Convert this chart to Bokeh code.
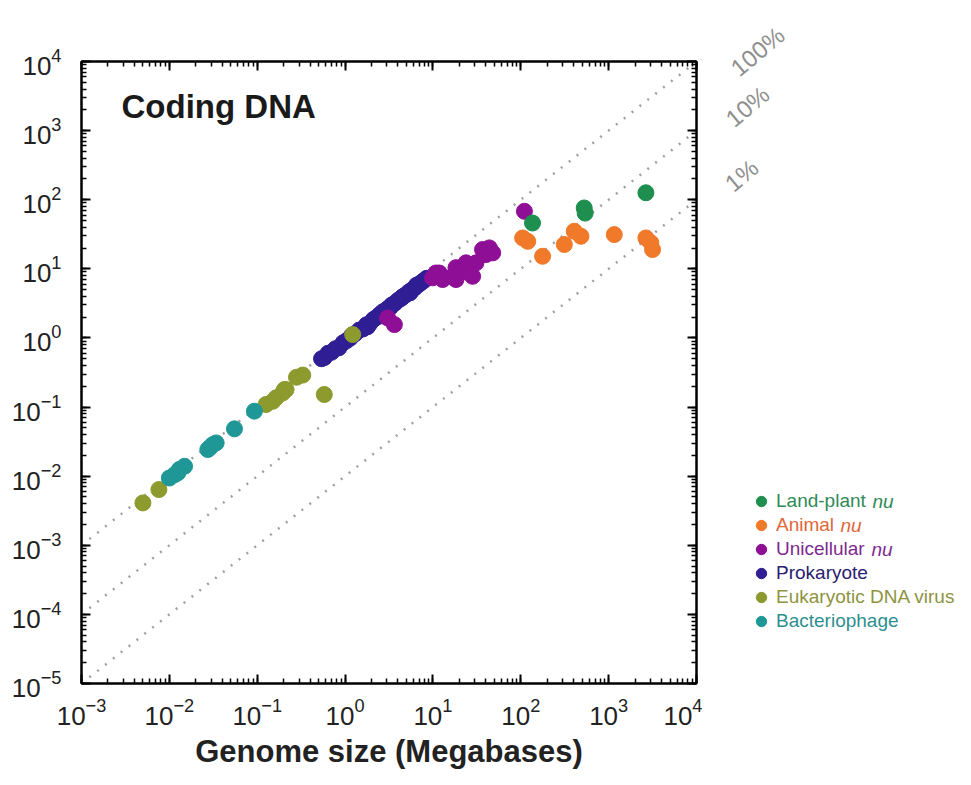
from bokeh.plotting import figure
from bokeh.models import LogAxis, Legend, LegendItem, Label, Range1d, LogTicker
from bokeh.layouts import row
from bokeh.embed import file_html
from bokeh.resources import INLINE
import math

# ---------------- data (Megabases) ----------------
landplant_x = [136, 527, 540, 2655]
landplant_y = [46, 76, 64, 126]

animal_x = [105, 120, 177, 313, 406, 484, 1159, 2655, 3027, 3162]
animal_y = [28, 25, 15.2, 22.5, 35, 29.6, 31.3, 28, 23.8, 19]

unicellular_x = [3.05, 3.64, 9.9, 10.8, 11.8, 12.9, 16.7, 18.3, 18.3, 21.8, 23.8,
                 25.9, 28.3, 30.9, 36.7, 40.2, 43.9, 47.9, 110]
unicellular_y = [1.95, 1.56, 7.4, 8.7, 8.7, 7.0, 7.8, 7.0, 10.4, 9.8, 12.2,
                 8.7, 7.8, 12.2, 19.0, 16.1, 20.1, 17.0, 68]

prokaryote_x = [0.54, 0.58, 0.64, 0.70, 0.78, 0.85, 0.95, 1.05, 1.15, 1.2, 1.3, 1.45,
                1.6, 1.75, 1.8, 1.9, 2.1, 2.3, 2.5, 2.6, 2.7, 2.9, 3.1, 3.3, 3.4,
                3.7, 4.0, 4.3, 4.5, 4.6, 4.9, 5.3, 5.5, 5.7, 6.2, 6.5, 6.7, 7.2,
                7.8, 8.5]
prokaryote_y = [0.50, 0.52, 0.60, 0.62, 0.70, 0.72, 0.85, 0.92, 1.0, 1.1, 1.15, 1.3,
                1.35, 1.55, 1.45, 1.6, 1.85, 2.0, 2.2, 2.1, 2.4, 2.5, 2.7, 2.8, 3.0,
                3.2, 3.5, 3.7, 3.9, 4.0, 4.2, 4.6, 4.5, 4.9, 5.3, 5.8, 5.8, 6.2,
                6.7, 7.3]

virus_x = [0.0050, 0.0076, 0.126, 0.150, 0.164, 0.195, 0.204, 0.213, 0.28, 0.33, 0.58, 1.22]
virus_y = [0.0041, 0.0064, 0.109, 0.121, 0.136, 0.160, 0.179, 0.179, 0.27, 0.29, 0.152, 1.12]

phage_x = [0.0100, 0.0115, 0.0125, 0.0130, 0.0149, 0.0274, 0.029, 0.0312, 0.0341, 0.0551, 0.0929]
phage_y = [0.0094, 0.0105, 0.0112, 0.0125, 0.0139, 0.0243, 0.026, 0.0286, 0.0303, 0.0484, 0.0871]

percent_levels = [1.0, 0.1, 0.01]
percent_labels = ["100%", "10%", "1%"]

x_ticks_range = (1e-3, 1e4)
y_ticks_range = (1e-5, 1e4)

# ---------------- styling / layout ----------------
C_PLANT, C_ANIMAL, C_UNI = "#1f8f4f", "#f07a2a", "#8e0f96"
C_PROK, C_VIRUS, C_PHAGE = "#301e95", "#8c9a2e", "#1f9797"
FONT = "Liberation Sans"

OFF = 1                    # page offset of the canvas
FL, FT = 82, 62            # frame left/top (page px, reference)
FW, FH = 615, 622          # frame size
BR = 6                     # right border of the main plot
BB = 86                    # bottom border
H = (FT - OFF) + FH + BB   # total height
W1 = (FL - OFF) + FW + BR  # main figure width
W2 = 962 - W1              # side panel width
X2 = OFF + W1              # page x of side panel

p = figure(x_axis_type="log", y_axis_type="log",
           x_range=Range1d(*x_ticks_range), y_range=Range1d(*y_ticks_range),
           frame_width=FW, frame_height=FH,
           min_border_left=FL - OFF, min_border_top=FT - OFF,
           min_border_right=BR, min_border_bottom=BB,
           output_backend="svg", toolbar_location=None)
p.xgrid.visible = False
p.ygrid.visible = False
p.outline_line_color = "black"
p.outline_line_width = 2
p.background_fill_color = "white"
p.border_fill_color = "white"

lx0, lx1 = math.log10(x_ticks_range[0]), math.log10(x_ticks_range[1])
ly0, ly1 = math.log10(y_ticks_range[0]), math.log10(y_ticks_range[1])


def fx(px):
    return 10 ** (lx0 + (px - FL) / FW * (lx1 - lx0))


def fy(py):
    return 10 ** (ly1 - (py - FT) / FH * (ly1 - ly0))


for lev in percent_levels:
    xs = list(x_ticks_range)
    p.line(x=xs, y=[lev * v for v in xs], line_color="#a0a0a0", line_width=2.5,
           line_dash="2 8")

S = 16
r_prok = p.scatter(prokaryote_x, prokaryote_y, size=S, color=C_PROK)
r_uni = p.scatter(unicellular_x, unicellular_y, size=S, color=C_UNI)
r_virus = p.scatter(virus_x, virus_y, size=S, color=C_VIRUS)
r_phage = p.scatter(phage_x, phage_y, size=S, color=C_PHAGE)
r_animal = p.scatter(animal_x, animal_y, size=S, color=C_ANIMAL)
r_plant = p.scatter(landplant_x, landplant_y, size=S, color=C_PLANT)

for ax in (p.xaxis[0], p.yaxis[0]):
    ax.axis_line_width = 2
    ax.major_tick_in = 9
    ax.major_tick_out = 0
    ax.minor_tick_in = 5
    ax.minor_tick_out = 0
    ax.major_tick_line_width = 2
    ax.minor_tick_line_width = 1.5
    ax.major_label_text_font = FONT
    ax.major_label_text_font_size = "26px"
    ax.major_label_text_color = "#222222"
    ax.ticker.num_minor_ticks = 10

p.xaxis[0].major_label_standoff = 14
p.yaxis[0].major_label_standoff = 20
p.xaxis[0].axis_label = "Genome size (Megabases)"
p.xaxis[0].axis_label_text_font = FONT
p.xaxis[0].axis_label_text_font_style = "bold"
p.xaxis[0].axis_label_text_font_size = "31px"
p.xaxis[0].axis_label_text_color = "#222222"
p.xaxis[0].axis_label_standoff = 6

for loc in ("above", "right"):
    ax = LogAxis(ticker=LogTicker(num_minor_ticks=10))
    ax.axis_line_width = 2
    ax.major_tick_in = 9
    ax.major_tick_out = 0
    ax.minor_tick_in = 5
    ax.minor_tick_out = 0
    ax.major_tick_line_width = 2
    ax.minor_tick_line_width = 1.5
    ax.major_label_text_alpha = 0
    ax.major_label_text_font_size = "1px"
    ax.major_label_standoff = 0
    p.add_layout(ax, loc)

p.add_layout(Label(x=fx(122), y=fy(107), text="Coding DNA", text_font=FONT,
                   text_font_style="bold", text_font_size="33px", text_color="#1a1a1a",
                   text_align="left", text_baseline="middle"))

# ---------------- side panel: percentage labels and legend ----------------
p2 = figure(width=W2, height=H, x_range=Range1d(0, W2), y_range=Range1d(0, H),
            min_border=0, frame_align=False, output_backend="svg",
            toolbar_location=None, x_axis_location=None, y_axis_location=None)
p2.xgrid.visible = False
p2.ygrid.visible = False
p2.outline_line_color = None
p2.background_fill_color = "white"
p2.border_fill_color = "white"


def sx(px):
    return px - X2


def sy(py):
    return H - (py - OFF)


pct_pos = [(758, 52), (748, 107), (742, 176)]
for lab, (px, py) in zip(percent_labels, pct_pos):
    p2.add_layout(Label(x=sx(px), y=sy(py), text=lab, angle=40, angle_units="deg",
                        text_align="center", text_baseline="middle", text_font=FONT,
                        text_font_size="24px", text_color="#8f8f8f"))

legend_items = [
    ("Land-plant", C_PLANT, "#2f8a56", True),
    ("Animal", C_ANIMAL, "#e0663a", True),
    ("Unicellular", C_UNI, "#7d2a8f", True),
    ("Prokaryote", C_PROK, "#2a2070", False),
    ("Eukaryotic DNA virus", C_VIRUS, "#8e9440", False),
    ("Bacteriophage", C_PHAGE, "#2e8f8f", False),
]
nu_offsets = {"Land-plant": 96, "Animal": 64, "Unicellular": 95}
G = 26
NAN = float("nan")
for i, (lab, mcol, tcol, nu) in enumerate(legend_items):
    cy = 502 + 24 * i
    key = p2.scatter(x=[NAN], y=[NAN], size=11, color=mcol)
    leg = Legend(items=[LegendItem(label=lab, renderers=[key])],
                 location=(sx(762) - G / 2, sy(cy) - G / 2),
                 glyph_width=G, glyph_height=G, label_standoff=2,
                 label_text_font=FONT, label_text_font_size="19px",
                 label_text_color=tcol, padding=0, margin=0, spacing=0,
                 border_line_color=None, background_fill_alpha=0,
                 label_height=G)
    p2.add_layout(leg)
    if nu:
        p2.add_layout(Label(x=sx(777 + nu_offsets[lab]), y=sy(cy), text="nu",
                            text_font=FONT, text_font_style="italic",
                            text_font_size="19px", text_color=tcol,
                            text_align="left", text_baseline="middle"))

layout = row(p, p2, spacing=0)
open("out.html", "w").write(file_html(layout, INLINE))
